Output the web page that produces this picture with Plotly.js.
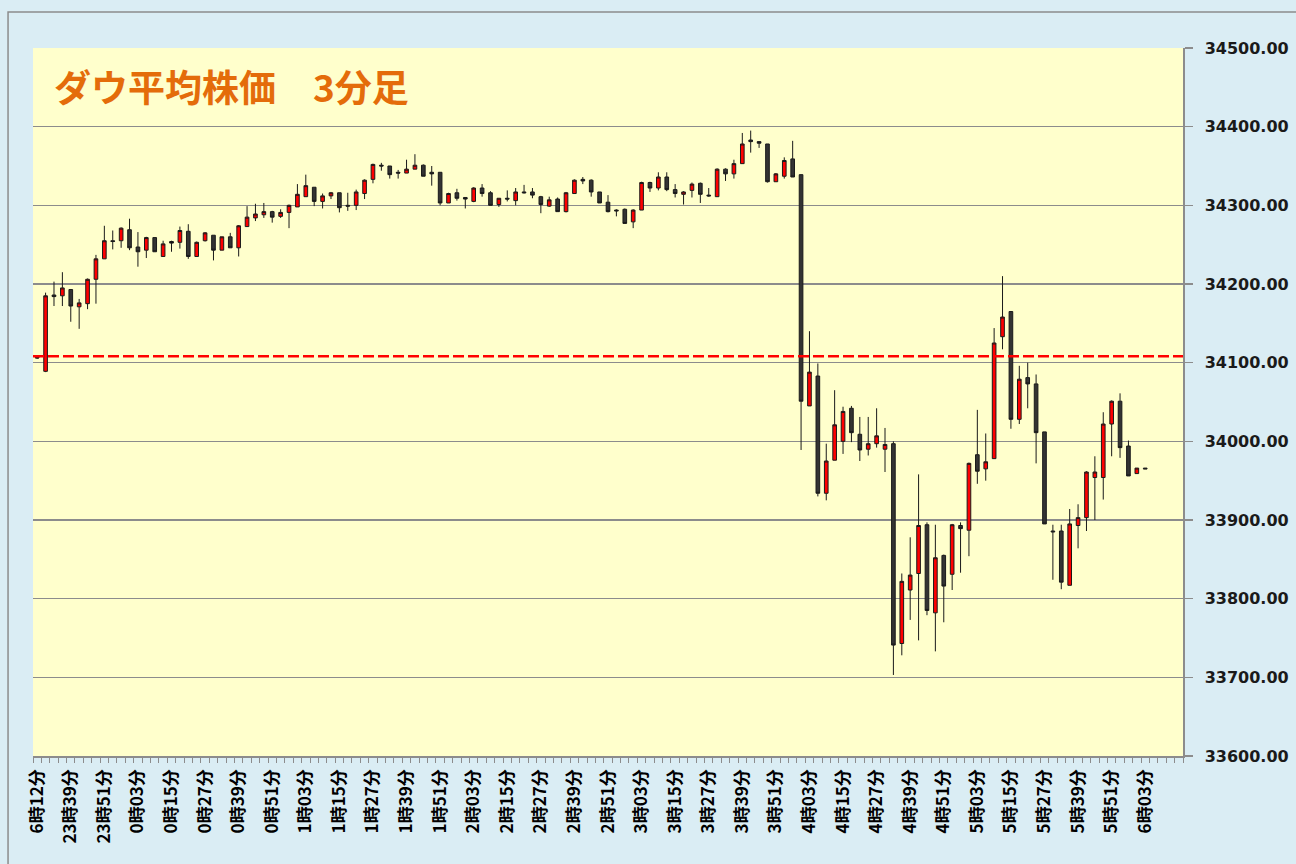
<!DOCTYPE html>
<html>
<head>
<meta charset="utf-8">
<script src="https://cdn.plot.ly/plotly-3.0.1.min.js"></script>
<style>
html,body{margin:0;padding:0;background:#DAEDF4;}
#chart{width:1296px;height:864px;}
</style>
</head>
<body>
<div id="chart"></div>
<script>
// Title and reference line
const chartTitle = "ダウ平均株価　3分足";
const prevClose = 34108;

// Tick labels shown every 4 candles (3-minute bars)
const tickLabels = ["6時12分","23時39分","23時51分","0時03分","0時15分","0時27分","0時39分","0時51分",
  "1時03分","1時15分","1時27分","1時39分","1時51分","2時03分","2時15分","2時27分","2時39分","2時51分",
  "3時03分","3時15分","3時27分","3時39分","3時51分","4時03分","4時15分","4時27分","4時39分","4時51分",
  "5時03分","5時15分","5時27分","5時39分","5時51分","6時03分"];
const slotCount = 137;

// OHLC values per candle
const openV = [34107,34089,34186,34185,34193,34171,34175,34206,34232,34255,34255,34269,34247,34243,34259,34235,34254,34253,34267,34235,
  34255,34262,34243,34260,34246,34273,34284,34288,34292,34286,34291,34298,34311,34323,34305,34312,34316,34300,34300,34315,
  34333,34351,34350,34342,34341,34346,34351,34342,34342,34303,34316,34310,34305,34322,34316,34301,34309,34306,34317,34317,
  34311,34299,34308,34292,34315,34333,34332,34317,34304,34294,34295,34279,34294,34329,34322,34336,34320,34314,34319,34328,
  34313,34311,34346,34340,34353,34383,34381,34378,34330,34337,34359,34339,34045,34083,33934,33976,34000,34042,34009,33990,
  33997,33990,33997,33743,33811,33832,33894,33782,33855,33831,33893,33887,33983,33965,33978,34133,34165,34028,34081,34073,
  34012,33886,33886,33817,33893,33903,33954,33954,34022,34051,33994,33959,33966];
const highV = [34107,34189,34203,34215,34193,34181,34207,34237,34274,34268,34272,34283,34266,34260,34259,34255,34255,34273,34276,34254,
  34266,34262,34260,34265,34275,34299,34302,34303,34293,34295,34301,34327,34339,34323,34315,34317,34316,34316,34320,34333,
  34353,34354,34350,34345,34358,34365,34352,34350,34342,34316,34321,34310,34323,34327,34318,34309,34319,34322,34326,34322,
  34312,34311,34310,34317,34333,34336,34333,34317,34313,34295,34296,34295,34330,34330,34342,34342,34327,34318,34329,34329,
  34322,34347,34347,34358,34392,34395,34381,34378,34341,34361,34382,34339,34140,34099,33997,34065,34044,34045,34031,34031,
  34042,34017,34000,33832,33878,33958,33897,33894,33856,33895,33897,33973,34040,34010,34144,34210,34165,34096,34100,34085,
  34012,33894,33894,33914,33920,33962,33981,34037,34052,34061,34001,33966,33966];
const lowV = [34105,34088,34172,34172,34152,34143,34168,34175,34232,34244,34246,34243,34222,34233,34241,34235,34241,34245,34232,34235,
  34254,34230,34243,34246,34235,34273,34280,34284,34278,34284,34271,34298,34311,34299,34296,34308,34291,34293,34294,34308,
  34328,34344,34334,34334,34341,34346,34337,34325,34300,34303,34306,34296,34304,34311,34300,34298,34305,34300,34315,34309,
  34290,34298,34292,34291,34315,34327,34311,34303,34291,34286,34277,34271,34294,34317,34319,34318,34310,34301,34310,34303,
  34311,34311,34331,34334,34353,34367,34373,34329,34330,34334,34336,33989,34045,33930,33925,33976,33984,33999,33975,33982,
  33992,33961,33703,33728,33773,33747,33779,33733,33770,33811,33833,33854,33946,33950,33978,34117,34016,34022,34042,33972,
  33895,33824,33812,33817,33864,33886,33900,33926,33981,33979,33956,33959,33965];
const closeV = [34106,34185,34184,34195,34172,34176,34206,34232,34255,34254,34271,34246,34241,34259,34241,34251,34252,34268,34235,34253,
  34265,34243,34260,34246,34274,34285,34289,34292,34285,34291,34300,34314,34325,34305,34312,34316,34297,34299,34317,34332,
  34352,34350,34339,34341,34346,34351,34337,34340,34303,34315,34309,34308,34322,34315,34300,34309,34308,34317,34316,34313,
  34301,34307,34292,34316,34332,34331,34317,34303,34292,34293,34277,34294,34329,34322,34336,34320,34315,34317,34327,34314,
  34312,34346,34340,34353,34378,34381,34379,34330,34340,34357,34336,34051,34088,33934,33975,34021,34038,34011,33989,33997,
  34007,33996,33741,33822,33830,33893,33785,33852,33816,33894,33889,33972,33962,33974,34125,34158,34028,34079,34073,34011,
  33895,33885,33821,33895,33903,33961,33961,34022,34051,33992,33956,33966,33965];

const xIdx = openV.map((_, i) => i);

const trace = {
  type: 'candlestick',
  x: xIdx, open: openV, high: highV, low: lowV, close: closeV,
  increasing: {fillcolor: '#FF0000', line: {color: '#1a1a1a', width: 1}},
  decreasing: {fillcolor: '#333333', line: {color: '#1a1a1a', width: 1}},
  whiskerwidth: 0,
  hoverinfo: 'skip',
  showlegend: false
};

const labelVals = tickLabels.map((_, k) => k * 4);

const layout = {
  width: 1296, height: 864,
  paper_bgcolor: '#DAEDF4',
  plot_bgcolor: '#FFFFCC',
  margin: {l: 33, r: 113, t: 48, b: 108, pad: 0},
  boxgap: 0.38,
  showlegend: false,
  xaxis: {
    type: 'linear',
    range: [-0.5, slotCount - 0.5],
    rangeslider: {visible: false},
    showgrid: false, zeroline: false,
    showline: true, linecolor: '#8c8c8c', linewidth: 1.5,
    tickmode: 'array', tickvals: labelVals, ticktext: tickLabels,
    ticks: '', tickangle: -90,
    tickfont: {family: '"Noto Sans CJK JP", sans-serif', size: 17, color: '#000000', weight: 'bold'},
    minor: {ticks: 'outside', ticklen: 5, tickcolor: '#8c8c8c', tickwidth: 1, tick0: -0.5, dtick: 1, showgrid: false},
    ticklabelstandoff: 5,
    fixedrange: true
  },
  yaxis: {
    side: 'right',
    range: [33600, 34500],
    dtick: 100, tick0: 33600,
    tickformat: '.2f',
    showgrid: true, gridcolor: '#8c8c8c', gridwidth: 1.5,
    zeroline: false,
    showline: true, linecolor: '#8c8c8c', linewidth: 1.5,
    ticks: 'outside', ticklen: 8, tickcolor: '#8c8c8c', tickwidth: 1.5,
    tickfont: {family: '"DejaVu Sans", sans-serif', size: 16, color: '#1a1a1a', weight: 'bold'},
    ticklabelstandoff: 9,
    fixedrange: true
  },
  shapes: [
    {type: 'line', xref: 'paper', x0: 0, x1: 1, yref: 'y', y0: prevClose, y1: prevClose,
     line: {color: '#FF0000', width: 2.5, dash: '11px,4px'}},
    {type: 'rect', xref: 'paper', yref: 'paper', x0: -0.0217, x1: 1.2, y0: -0.3, y1: 1.0508,
     line: {color: '#8c8c8c', width: 1.5}, fillcolor: 'rgba(0,0,0,0)', layer: 'below'}
  ],
  annotations: [
    {text: chartTitle, xref: 'paper', yref: 'paper', x: 0.0165, y: 0.946,
     xanchor: 'left', yanchor: 'middle', showarrow: false,
     font: {family: '"Noto Sans CJK JP", sans-serif', size: 37, color: '#E46C0A', weight: 'bold'}}
  ]
};

Plotly.newPlot('chart', [trace], layout, {displayModeBar: false, staticPlot: true});
</script>
</body>
</html>
